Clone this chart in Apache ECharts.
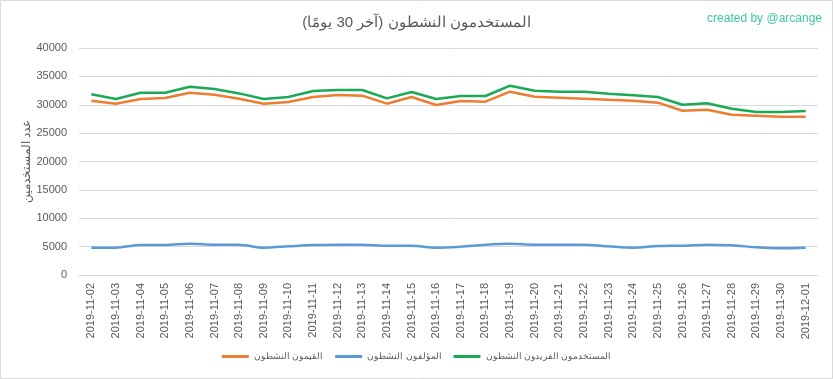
<!DOCTYPE html>
<html>
<head>
<meta charset="utf-8">
<script src="https://cdn.jsdelivr.net/npm/echarts@6/dist/echarts.min.js"></script>
<style>
html,body{margin:0;padding:0;background:#fff;}
#chart{width:833px;height:379px;}
</style>
</head>
<body>
<div id="chart"></div>
<script>
const dates = ["2019-11-02","2019-11-03","2019-11-04","2019-11-05","2019-11-06","2019-11-07","2019-11-08","2019-11-09","2019-11-10","2019-11-11","2019-11-12","2019-11-13","2019-11-14","2019-11-15","2019-11-16","2019-11-17","2019-11-18","2019-11-19","2019-11-20","2019-11-21","2019-11-22","2019-11-23","2019-11-24","2019-11-25","2019-11-26","2019-11-27","2019-11-28","2019-11-29","2019-11-30","2019-12-01"];
const curators = [30720,30190,31010,31190,32120,31770,31060,30190,30480,31360,31720,31600,30190,31360,29950,30660,30540,32300,31420,31250,31070,30890,30720,30370,28950,29130,28250,28070,27890,27890];
const authors = [4810,4810,5290,5290,5520,5350,5350,4810,5050,5290,5350,5350,5170,5170,4810,5000,5350,5520,5350,5350,5350,5050,4810,5110,5170,5350,5230,4870,4700,4810];
const uniqueUsers = [31840,31010,32120,32100,33180,32770,32000,31000,31360,32420,32600,32600,31130,32240,31000,31540,31540,33360,32480,32300,32300,31950,31660,31360,30010,30250,29310,28720,28720,28900];
const yTicks = {min:0, max:40000, interval:5000};
const names = ["القيمون النشطون","المؤلفون النشطون","المستخدمون الفريدون النشطون"];
const titleText = "المستخدمون النشطون (آخر 30 يومًا)";
const yName = "عدد المستخدمين";

const font = "Arial, 'Liberation Sans', 'Noto Sans', sans-serif";
const chart = echarts.init(document.getElementById('chart'), null, {renderer:'canvas'});
chart.setOption({
  backgroundColor:'#fff',
  animation:false,
  textStyle:{fontFamily:font},
  title:[
    {text:titleText, left:'center', top:10, textStyle:{fontSize:15, fontWeight:'normal', color:'#595959', fontFamily:font}},
    {text:'created by @arcange', right:6, top:8, textStyle:{fontSize:12, fontWeight:'normal', color:'#3cc9a0', fontFamily:font}}
  ],
  graphic:[{type:'rect', shape:{x:0.5,y:0.5,width:832,height:378}, style:{fill:'none', stroke:'#d9d9d9', lineWidth:1}, silent:true}],
  legend:{
    data:names, bottom:13, left:'center', itemWidth:27, itemHeight:3, icon:'rect', itemGap:12,
    textStyle:{color:'#595959', fontSize:8.5, fontFamily:font}
  },
  grid:{left:79, right:15, top:48, bottom:104, containLabel:false},
  xAxis:{
    type:'category', data:dates, boundaryGap:true,
    axisLine:{lineStyle:{color:'#d9d9d9'}},
    axisTick:{show:false},
    axisLabel:{rotate:90, color:'#595959', fontSize:11, margin:8, interval:0}
  },
  yAxis:{
    type:'value', min:yTicks.min, max:yTicks.max, interval:yTicks.interval,
    name:yName, nameLocation:'middle', nameGap:46, nameRotate:90, nameMoveOverlap:false,
    nameTextStyle:{color:'#595959', fontSize:12},
    axisLine:{show:false}, axisTick:{show:false},
    axisLabel:{color:'#595959', fontSize:11, margin:12, formatter:function(v){return String(v);}},
    splitLine:{lineStyle:{color:'#d9d9d9'}}
  },
  series:[
    {name:names[0], type:'line', data:curators, symbol:'none', lineStyle:{width:2.5, color:'#ED7D31'}, itemStyle:{color:'#ED7D31'}},
    {name:names[1], type:'line', data:authors, symbol:'none', smooth:0.3, lineStyle:{width:2.5, color:'#5B9BD5'}, itemStyle:{color:'#5B9BD5'}},
    {name:names[2], type:'line', data:uniqueUsers, symbol:'none', lineStyle:{width:2.5, color:'#1AAA55'}, itemStyle:{color:'#1AAA55'}}
  ]
});
</script>
</body>
</html>
